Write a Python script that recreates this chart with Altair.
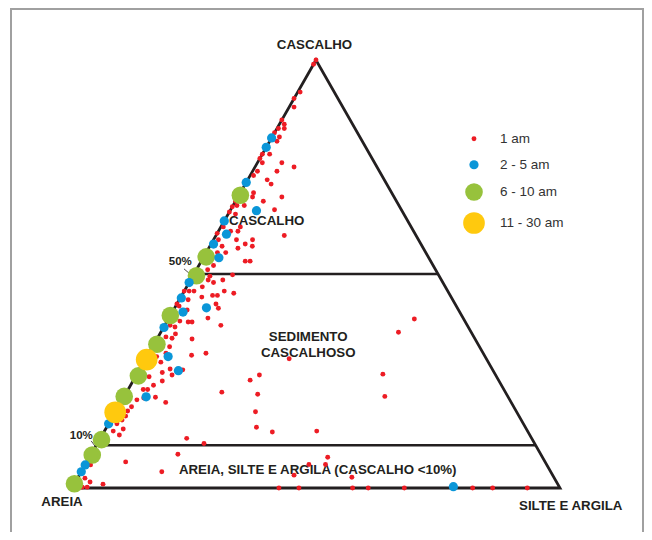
import altair as alt
import pandas as pd

# ---------------- data (composition: gravel %, mud % ; sand = rest) ----------------
classes = ["1 am", "2 - 5 am", "6 - 10 am", "11 - 30 am"]
class_colors = ["#ed1c24", "#0a96d8", "#97c23c", "#ffc90e"]
class_sizes = [24, 85, 310, 470]

red_gravel = [100, 99, 92.5, 91, 89, 86, 85, 84, 84, 83, 82, 81, 78, 78, 77, 76, 76, 75, 74, 74,
              73, 72, 71, 69, 68, 67, 68, 67, 66, 66, 65.7, 64.5, 64, 65, 59, 61, 59.5, 58, 60, 60,
              61, 57, 58, 56.5, 58, 56, 55, 55, 56.5, 53, 53, 52, 51,
              49.5, 48.6, 48.6, 49.8, 48, 46, 46, 46, 47, 45, 45, 46, 45.5, 44, 44.6, 43, 42, 43,
              42.5, 41.6, 39, 38.8, 38.8, 39.7, 38, 38, 37.6, 36, 35.3, 35, 33, 34.8, 31.5, 31,
              22.4, 27, 27.8, 26.4, 27.6, 25, 26, 23, 23, 21, 21.2, 20, 24, 20.6, 19, 18, 16.8,
              15, 13.8, 13.3, 12.4, 15.9, 30.7, 29.4, 31.5,
              39.5, 36.4, 30.2, 26.6, 21.4, 26.4, 25.2, 21.9, 17.8, 14.2, 13.1, 13.3,
              11.6, 10.4, 7.9, 6.1, 5.4, 3.8, 7.2, 5.5, 5.5, 3.0, 2.5, 2.3, 1.4, 0.9, 0.2, 0.2,
              0, 0, 0, 0, 0, 0, 0, 0]
red_mud = [0, 0, 0.5, 0, 1, 0, 1, 0.3, 1.5, 0, 1.5, 1.5, 1.5, 0, 0, 1, 5, 8, 5, 1,
           0.7, 4, 5.3, 2.7, 3, 5.7, 9, 0, 0.8, 2.3, 0, 0, 1.5, 9, 14, 0.5, 0, 1, 2.5, 4,
           4, 7, 8, 8.7, 4.7, 6, 4, 2.3, 2.5, 9, 10, 3, 2.3,
           3.5, 3.6, 6.6, 8, 5, 1, 2, 0, 3.2, 6.3, 7.3, 8.2, 10.4, 1.8, 4.3, 8, 9, 0,
           0.7, 2.8, 2.6, 4.4, 5.2, 8, 11.5, 1.1, 2.3, 3.2, 1.6, 3, 3.5, 7.2, 11.7, 9,
           19.5, 5, 6.2, 7.3, 8.9, 6, 2.8, 4, 3.1, 4.2, 6.5, 9.2, 4.7, 3, 2.7, 2.4, 2.6,
           1.7, 3.6, 1.8, 3.5, 2.3, 2, 3.5, 3.5,
           50.4, 48.7, 29.4, 50.4, 53.4, 25.2, 23.9, 27.1, 28.7, 30.7, 34.5, 43.5,
           17.7, 21.85, 17.75, 7.95, 1.1, 16.5, 48.8, 49.2, 45.8, 44.0, 56.1, 1.5, 3, 5.9, 2, 3,
           42.4, 46.5, 57.5, 60.7, 68.1, 82.1, 86.2, 93.3]

blue_gravel = [81.8, 79.6, 71.4, 64.8, 62.4, 59.3, 57, 53.8, 48, 44.4, 41.1, 42.1, 37.5,
               30.7, 27.4, 21.3, 15, 5.4, 3.8, 0.3]
blue_mud = [0, 0, 0, 5.4, 0, 2, 0.5, 3.2, 0, 0.2, 2.2, 6.5, 0.1,
            4.35, 8.1, 4.55, 0, 0, 0, 78]

green_gravel = [68.4, 54, 49.6, 40.3, 33.6, 26.2, 21.4, 11.3, 7.7, 1]
green_mud = [0.3, 0.5, 0.7, 0, 0.6, 0.5, 0, 0.4, 0.3, 0]

yellow_gravel = [30, 17.7]
yellow_mud = [0.3, 0]

gravel_limits = [50, 10]

# ---------------- ternary transform ----------------
def tern_x(g, m):
    return m + g / 2.0

rows = []
for cls, gs, ms in [(classes[0], red_gravel, red_mud),
                    (classes[2], green_gravel, green_mud),
                    (classes[1], blue_gravel, blue_mud),
                    (classes[3], yellow_gravel, yellow_mud)]:
    for g, m in zip(gs, ms):
        rows.append({"classe": cls, "cascalho": g, "lama": m, "areia": 100 - g - m,
                     "x": tern_x(g, m), "y": g})
pts = pd.DataFrame(rows)
pts["ordem"] = range(len(pts))

# triangle outline: sand vertex -> gravel vertex -> mud vertex -> sand -> gravel
tri = pd.DataFrame({
    "x": [tern_x(0, 0), tern_x(100, 0), tern_x(0, 100), tern_x(0, 0), tern_x(100, 0)],
    "y": [0, 100, 0, 0, 100],
    "i": [0, 1, 2, 3, 4],
})
lims = pd.DataFrame({
    "x": [tern_x(g, 0) for g in gravel_limits],
    "x2": [tern_x(g, 100 - g) for g in gravel_limits],
    "y": gravel_limits,
})

labels_main = pd.DataFrame({
    "t": ["CASCALHO", "AREIA", "SILTE E ARGILA", "CASCALHO", "SEDIMENTO", "CASCALHOSO",
          "AREIA, SILTE E ARGILA (CASCALHO <10%)"],
    "x": [49.7, -2.05, 102.2, 39.9, 48.4, 48.4, 50.35],
    "y": [103.5, -3.3, -4.1, 62.4, 35.35, 31.6, 4.2],
})
labels_pct = pd.DataFrame({"t": ["50%", "10%"], "x": [22.2, 1.9], "y": [52.7, 12.15]})
leaders = pd.DataFrame({"x": [22.95, 3.93], "y": [51.2, 11.0], "x2": [23.98, 4.71], "y2": [50.2, 9.8]})

# ---------------- chart ----------------
W, H = 636, 524
xs = alt.Scale(domain=[-13.115, -13.115 + W / 4.88], nice=False, zero=False)
ys = alt.Scale(domain=[-10.28, -10.28 + H / 4.28], nice=False, zero=False)
ink = "#231f20"
FONT = "Liberation Sans"

X = lambda f="x": alt.X(f"{f}:Q", scale=xs, axis=None)
Y = lambda f="y": alt.Y(f"{f}:Q", scale=ys, axis=None)

frame = alt.Chart(pd.DataFrame({"k": [0]})).mark_rule(color="#a0a0a0", strokeWidth=2)
frame_left = frame.encode(x=alt.value(3), y=alt.value(0), y2=alt.value(H))
frame_top = frame.encode(x=alt.value(3), x2=alt.value(W), y=alt.value(1))
frame_right = frame.encode(x=alt.value(W - 1), y=alt.value(0), y2=alt.value(H))

outline = alt.Chart(tri).mark_line(color=ink, strokeWidth=2.8, strokeJoin="miter",
                                   strokeMiterLimit=20).encode(x=X(), y=Y(), order="i:Q")
limit_lines = alt.Chart(lims).mark_rule(color=ink, strokeWidth=2.4).encode(
    x=X(), x2="x2:Q", y=Y())
leader_lines = alt.Chart(leaders).mark_rule(color=ink, strokeWidth=0.8).encode(
    x=X(), x2="x2:Q", y=Y(), y2="y2:Q")

points = alt.Chart(pts).mark_circle(opacity=1).encode(
    x=X(), y=Y(),
    color=alt.Color("classe:O", sort=classes,
                    scale=alt.Scale(type="ordinal", domain=classes, range=class_colors),
                    legend=alt.Legend(title=None, orient="none", legendX=455, legendY=124,
                                      labelFont="Liberation Sans", labelFontSize=13.5,
                                      labelColor="#333333", rowPadding=11, labelOffset=15,
                                      padding=0, symbolStrokeWidth=0, symbolOpacity=1)),
    size=alt.Size("classe:O", sort=classes,
                  scale=alt.Scale(type="ordinal", domain=classes, range=class_sizes)),
    order="ordem:Q",
)

text_main = alt.Chart(labels_main).mark_text(font=FONT, fontSize=13.3, fontWeight="bold",
                                             color=ink, baseline="middle", align="center").encode(
    x=X(), y=Y(), text="t:N")
text_pct = alt.Chart(labels_pct).mark_text(font=FONT, fontSize=11.5, fontWeight="bold",
                                           color=ink, baseline="middle", align="center").encode(
    x=X(), y=Y(), text="t:N")

chart = alt.layer(frame_left, frame_top, frame_right, outline, limit_lines, leader_lines,
                  text_main, text_pct, points).properties(
    width=W, height=H, padding=0, autosize=alt.AutoSizeParams(type="none"),
    background="white",
).configure_view(stroke=None)

chart.save("out.html", embed_options={"renderer": "svg", "actions": False})
